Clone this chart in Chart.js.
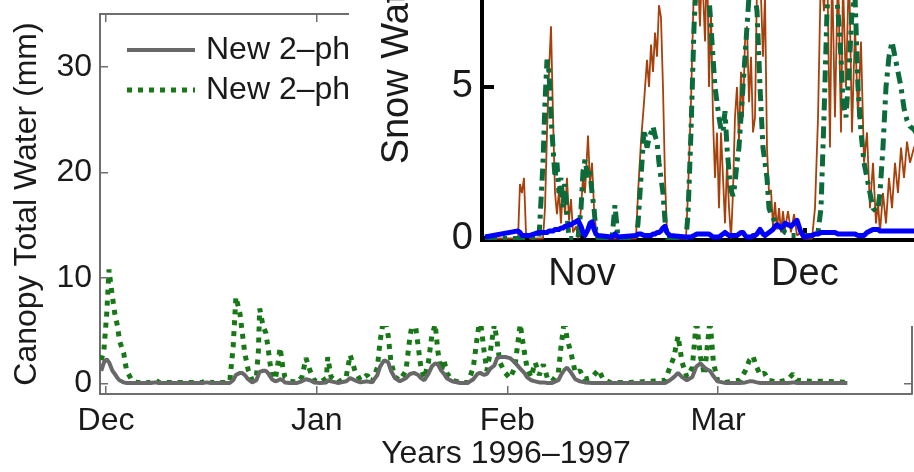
<!DOCTYPE html>
<html>
<head>
<meta charset="utf-8">
<script src="https://cdn.jsdelivr.net/npm/chart.js@4.4.1/dist/chart.umd.min.js"></script>
<style>
    html, body { margin: 0; padding: 0; background: #fff; }
    body { width: 914px; height: 472px; position: relative; overflow: hidden; }
    #mainBox { position: absolute; left: 0; top: 0; width: 914px; height: 472px; }
    #insetBox { position: absolute; left: 349px; top: -260px; width: 585px; height: 586px; background: #fff; }
</style>
</head>
<body>
<div id="mainBox"><canvas id="mainCanvas"></canvas></div>
<div id="insetBox"><canvas id="insetCanvas"></canvas></div>
<script>
// main panel: canopy total water, days from 1 Dec 1996
const canopyDays = [
    -0.7, -0.3, 0.1, 0.45, 0.7, 0.95, 1.3, 1.7, 2.0, 2.6,
    3.0, 3.3, 3.8, 4.5, 6.5, 7.2, 7.8, 11, 14.2, 14.8,
    15.4, 17.6, 18.2, 18.7, 19.1, 19.7, 20.0, 20.4, 20.9, 21.5,
    22.1, 22.4, 22.6, 23.1, 23.5, 23.8, 24.1, 24.4, 24.9, 25.3,
    25.6, 26.0, 26.3, 27.1, 28.1, 28.8, 29.4, 30.0, 30.6, 31.5,
    32.4, 32.6, 33.1, 34.1, 35.3, 35.9, 36.6, 37.4, 38.4, 39.1,
    39.9, 40.3, 40.9, 41.5, 41.9, 42.5, 43.2, 44.1, 44.7, 45.3,
    45.9, 46.3, 46.8, 47.4, 47.9, 48.4, 48.8, 49.3, 49.7, 50.1,
    50.9, 52.1, 53.2, 54.0, 54.6, 55.0, 55.6, 56.0, 56.5, 57.1,
    57.5, 57.9, 58.7, 59.4, 60.1, 60.9, 61.5, 61.9, 62.5, 63.1,
    63.7, 64.3, 64.9, 65.6, 66.5, 66.9, 67.4, 67.8, 68.4, 69.0,
    69.7, 70.4, 71.5, 72.4, 73.1, 74.1, 77.1, 80.0, 82.2, 82.9,
    83.5, 84.1, 84.7, 85.4, 86.2, 86.8, 87.4, 88.0, 88.4, 88.8,
    89.3, 89.9, 91.0, 93.2, 94.0, 94.6, 95.1, 95.7, 96.2, 96.8,
    97.4, 98.8, 100.3, 101.0, 101.6, 103.5, 105.7, 109.0
];
const canopyGray = [
    1.2, 2.0, 2.3, 2.0, 1.6, 1.2, 0.9, 0.5, 0.3, 0.1,
    0.05, 0.05, 0.05, 0.05, 0.05, 0.1, 0.05, 0.05, 0.05, 0.1,
    0.05, 0.05, 0.05, 0.3, 0.8, 1.0, 1.0, 0.8, 0.4, 0.1,
    0.3, 0.8, 1.1, 1.2, 1.2, 1.0, 0.7, 0.4, 0.2, 0.3,
    0.4, 0.3, 0.1, 0.05, 0.05, 0.2, 0.4, 0.3, 0.1, 0.05,
    0.1, 0.3, 0.2, 0.05, 0.2, 0.5, 0.3, 0.1, 0.2, 0.1,
    0.8, 1.6, 2.2, 2.0, 1.2, 0.5, 0.2, 0.5, 0.9, 1.0,
    0.8, 0.5, 0.3, 0.9, 1.6, 1.9, 1.8, 1.2, 0.9, 0.5,
    0.2, 0.05, 0.05, 0.4, 0.9, 1.0, 0.8, 0.9, 1.4, 1.7,
    2.4, 2.5, 2.5, 2.4, 2.0, 1.4, 1.0, 0.6, 0.3, 0.2,
    0.1, 0.1, 0.05, 0.05, 0.3, 0.8, 1.3, 1.5, 1.0, 0.4,
    0.2, 0.1, 0.05, 0.05, 0.05, 0.05, 0.05, 0.05, 0.05, 0.3,
    0.6, 1.0, 0.6, 0.3, 0.6, 1.6, 1.9, 1.5, 1.3, 1.2,
    0.7, 0.2, 0.05, 0.05, 0.1, 0.2, 0.2, 0.1, 0.05, 0.05,
    0.05, 0.05, 0.05, 0.1, 0.05, 0.05, 0.05, 0.05
];
const canopyGreen = [
    2.2, 3.2, 6.5, 10.8, 9.4, 8.2, 6.6, 5.4, 4.0, 2.9,
    1.3, 0.9, 0.3, 0.1, 0.1, 0.35, 0.1, 0.1, 0.1, 0.35,
    0.1, 0.1, 0.2, 3.5, 8.2, 6.6, 5.0, 2.9, 1.3, 0.3,
    0.5, 3.0, 7.1, 5.4, 4.8, 3.5, 2.0, 0.8, 0.4, 2.0,
    3.4, 1.5, 0.6, 0.2, 0.1, 0.6, 2.4, 1.2, 0.3, 0.1,
    0.5, 2.5, 0.6, 0.1, 0.6, 2.7, 1.2, 0.3, 0.8, 0.1,
    1.5, 4.0, 6.5, 4.5, 2.0, 0.6, 0.3, 1.2, 4.5, 6.5,
    3.5, 1.5, 0.5, 2.0, 4.5, 5.6, 3.0, 1.2, 2.2, 1.0,
    0.3, 0.1, 0.1, 1.5, 4.5, 6.2, 3.0, 1.2, 3.0, 5.6,
    4.0, 2.0, 1.0, 0.5, 1.5, 5.6, 3.0, 1.5, 0.6, 2.0,
    0.8, 1.8, 0.5, 0.2, 1.0, 3.5, 6.0, 4.2, 2.8, 1.0,
    1.2, 0.4, 0.6, 1.3, 0.4, 0.1, 0.1, 0.2, 0.3, 1.5,
    2.5, 4.5, 2.0, 0.6, 1.5, 6.0, 2.5, 0.8, 3.5, 6.0,
    2.0, 0.3, 0.1, 0.3, 1.2, 2.2, 2.6, 1.5, 0.8, 1.0,
    0.3, 0.1, 0.4, 0.9, 0.3, 0.2, 0.2, 0.1
];
const seriesLabels = ["New 2–phase", "New 2–phase"];
const monthTicks = [0, 31, 59, 90];
const monthLabels = ["Dec", "Jan", "Feb", "Mar"];
const canopyTicks = [0, 10, 20, 30];

// inset: snow water, days from 1 Nov 1996
const snowDays = [
    -13.06, -8.61, -8.35, -8.08, -7.81, -7.54, -7.00, -5.79, -5.25, -4.98,
    -4.71, -4.44, -4.17, -3.90, -3.63, -3.37, -3.10, -2.83, -2.56, -2.29,
    -2.02, -1.75, -1.48, -1.21, -0.81, -0.54, -0.13, 0.13, 0.40, 0.81,
    1.08, 1.35, 1.62, 1.88, 2.15, 4.04, 4.44, 4.85, 7.27, 7.54,
    7.94, 8.35, 8.75, 9.02, 9.29, 9.56, 9.83, 10.10, 10.36, 10.63,
    10.90, 11.17, 11.44, 11.84, 14.00, 14.27, 14.67, 15.08, 15.48, 15.88,
    16.15, 16.56, 16.83, 17.09, 17.36, 17.63, 17.90, 18.17, 18.44, 18.71,
    18.98, 19.25, 19.52, 19.79, 20.06, 20.32, 20.59, 20.86, 21.13, 21.40,
    21.67, 21.94, 22.21, 22.48, 22.75, 23.02, 23.29, 23.56, 23.96, 24.36,
    24.63, 24.90, 25.17, 25.44, 25.71, 25.98, 26.25, 26.52, 26.79, 27.05,
    27.32, 27.73, 28.13, 28.54, 28.94, 29.48, 29.88, 30.96, 31.36, 31.77,
    32.17, 32.57, 32.98, 33.38, 33.65, 34.05, 34.46, 34.86, 35.13, 35.53,
    35.94, 36.34, 36.75, 37.15, 37.55, 37.96, 38.36, 38.76, 39.17, 39.57,
    39.84, 40.11, 40.51, 40.92, 41.32, 41.73, 42.13, 42.53, 42.94, 43.34,
    43.75, 44.15, 44.69, 46.17
];
const snowBrown = [
    0, 0, 1.8, 1.5, 2.0, 0.2, 0, 0, 0, 1.0,
    3.5, 5.5, 7.0, 4.0, 1.5, 0.8, 1.6, 0.5, 1.8, 0.8,
    2.0, 0.6, 1.3, 0.2, 0.4, 0, 1.0, 2.0, 1.5, 3.4,
    1.8, 2.5, 1.0, 0.3, 0, 0, 0, 0, 0, 1.5,
    3.2, 4.5, 5.9, 5.0, 6.4, 5.5, 6.8, 6.0, 7.7, 7.3,
    5.0, 2.0, 0.2, 0, 0, 1.5, 4.5, 8.5, 9.5, 7.0,
    9.0, 6.5, 9.5, 5.0, 7.5, 4.0, 2.0, 3.5, 1.0, 3.5,
    2.0, 0.5, 2.5, 1.0, 0, 1.5, 4.0, 5.0, 3.2, 5.5,
    4.0, 6.5, 7.0, 4.5, 6.0, 3.5, 4.0, 8.5, 9.0, 6.0,
    8.0, 3.0, 1.5, 1.6, 0.4, 1.2, 0.3, 1.0, 0.2, 0.9,
    0.3, 0.9, 0.2, 0.8, 0.1, 0.2, 0, 0, 1.0, 4.0,
    9.0, 7.5, 9.5, 3.0, 9.0, 4.0, 9.0, 3.5, 8.5, 5.0,
    9.0, 3.5, 7.0, 4.0, 6.5, 2.5, 3.5, 1.0, 2.5, 0.5,
    1.2, 0.2, 1.5, 0.5, 2.0, 1.0, 2.5, 1.5, 3.0, 2.0,
    3.2, 2.5, 3.0, 3.5
];
const snowGreen = [
    0, 0, 0, 0, 0, 0, 0, 0, 2.5, 4.5,
    5.9, 5.5, 4.0, 3.0, 2.0, 2.5, 1.5, 2.0, 1.0, 1.8,
    0.8, 0, 0, 0, 0, 0, 1.0, 2.2, 2.6, 2.0,
    2.2, 1.5, 1.0, 0.2, 0, 0, 1.1, 0, 0, 0.5,
    2.0, 3.6, 3.0, 3.3, 3.5, 3.7, 3.4, 3.2, 2.5, 2.0,
    1.5, 0.6, 0, 0, 0, 0.8, 3.5, 7.0, 9.0, 8.8,
    8.5, 8.5, 8.3, 8.0, 7.0, 6.0, 5.0, 4.5, 4.0, 3.6,
    3.5, 4.2, 3.0, 2.2, 1.6, 1.4, 1.8, 2.5, 3.0, 4.0,
    5.0, 6.0, 7.0, 8.0, 8.5, 8.2, 8.0, 7.5, 5.0, 3.0,
    2.5, 2.0, 1.0, 0.8, 0.7, 0.5, 0.5, 0.4, 0.4, 0.3,
    0.2, 0.15, 0.1, 0.1, 0.1, 0.1, 0.1, 0.1, 0.1, 0.2,
    1.0, 4.0, 7.5, 9.0, 9.0, 8.5, 7.5, 6.0, 4.5, 4.0,
    5.5, 7.5, 8.0, 5.0, 3.5, 2.5, 2.0, 1.5, 1.0, 0.9,
    1.0, 1.5, 3.0, 5.0, 6.0, 6.5, 6.0, 5.5, 5.0, 4.3,
    3.9, 3.7, 3.6, 3.0
];
const snowBlue = [
    0.05, 0.25, 0.2, 0.1, 0.1, 0.1, 0.1, 0.2, 0.2, 0.2,
    0.2, 0.25, 0.25, 0.25, 0.3, 0.3, 0.3, 0.35, 0.35, 0.4,
    0.4, 0.45, 0.45, 0.5, 0.55, 0.6, 0.4, 0.2, 0.1, 0.3,
    0.5, 0.55, 0.3, 0.15, 0.1, 0.05, 0.15, 0.05, 0.1, 0.15,
    0.15, 0.1, 0.1, 0.1, 0.1, 0.15, 0.15, 0.2, 0.2, 0.25,
    0.35, 0.4, 0.2, 0.1, 0.05, 0.05, 0.05, 0.1, 0.15, 0.15,
    0.15, 0.15, 0.15, 0.15, 0.1, 0.05, 0.05, 0.05, 0.05, 0.1,
    0.15, 0.2, 0.15, 0.1, 0.1, 0.1, 0.1, 0.1, 0.15, 0.2,
    0.2, 0.1, 0.05, 0.05, 0.05, 0.1, 0.1, 0.15, 0.3, 0.15,
    0.1, 0.15, 0.2, 0.25, 0.3, 0.4, 0.45, 0.4, 0.35, 0.4,
    0.5, 0.45, 0.4, 0.5, 0.6, 0.2, 0.05, 0.1, 0.15, 0.15,
    0.2, 0.2, 0.2, 0.2, 0.2, 0.2, 0.15, 0.15, 0.15, 0.15,
    0.15, 0.15, 0.15, 0.1, 0.1, 0.1, 0.2, 0.25, 0.3, 0.3,
    0.3, 0.25, 0.25, 0.25, 0.25, 0.25, 0.25, 0.25, 0.25, 0.25,
    0.25, 0.25, 0.25, 0.25
];
const snowTicks = [0, 5, 10, 15];
const snowMonthTicks = [0, 30];
const snowMonthLabels = ["Nov", "Dec"];

const fontFamily = '"Liberation Sans", Arial, Helvetica, sans-serif';
const textColor = "#1a1a1a";
const axisGray = "#6e6e6e";

const toPoints = (xs, ys) => xs.map((x, i) => ({ x: x, y: ys[i] }));
const fixTicks = (values) => (scale) => { scale.ticks = values.map(v => ({ value: v })); };
// fixed axis size, and no extra room kept for the end labels
const fixSize = (key, size) => (scale) => {
    scale[key] = size;
    scale.paddingTop = 0;
    scale.paddingBottom = 0;
};

// legend drawn inside the plot, top left, like the matlab one
const lineLegend = {
    id: 'lineLegend',
    afterDatasetsDraw(chart) {
        const { ctx, chartArea } = chart;
        ctx.save();
        chart.data.datasets.forEach((ds, i) => {
            const y = chartArea.top + 36 + i * 40;
            const x0 = chartArea.left + 27;
            ctx.strokeStyle = ds.borderColor;
            ctx.lineWidth = ds.borderWidth;
            ctx.setLineDash(ds.borderDash || []);
            ctx.beginPath();
            ctx.moveTo(x0, y);
            ctx.lineTo(x0 + 68, y);
            ctx.stroke();
            ctx.setLineDash([]);
            ctx.fillStyle = textColor;
            ctx.font = '32px ' + fontFamily;
            ctx.textBaseline = 'middle';
            ctx.fillText(ds.label, x0 + 79, y);
        });
        ctx.restore();
    }
};

const mainGrid = { drawOnChartArea: false, tickLength: -8, color: axisGray, lineWidth: 1.5 };
const mainBorder = { color: axisGray, width: 2 };
const mainFont = { family: fontFamily, size: 32 };

const mainChart = new Chart(document.getElementById('mainCanvas'), {
    type: "line",
    data: {
        datasets: [{
            label: seriesLabels[0],
            data: toPoints(canopyDays, canopyGray),
            borderColor: "#686868",
            borderWidth: 4,
            borderJoinStyle: 'bevel',
            pointRadius: 0,
            tension: 0,
        }, {
            label: seriesLabels[1],
            data: toPoints(canopyDays, canopyGreen),
            borderColor: "#187818",
            borderWidth: 5,
            borderDash: [5, 6],
            borderJoinStyle: 'bevel',
            pointRadius: 0,
            tension: 0,
        }]
    },
    options: {
        animation: false,
        responsive: true,
        maintainAspectRatio: false,
        layout: { padding: { top: 14, right: 2, left: 0, bottom: 0 } },
        plugins: { legend: { display: false }, tooltip: { enabled: false } },
        scales: {
            x: {
                type: 'linear', position: 'bottom', min: -0.88, max: 118.5,
                afterBuildTicks: fixTicks(monthTicks),
                afterFit: (s) => { s.height = 78; },
                ticks: { callback: (v, i) => monthLabels[i], font: mainFont, color: textColor, padding: 16, maxRotation: 0, autoSkip: false },
                grid: mainGrid, border: mainBorder,
                title: { display: true, text: "Years 1996–1997", color: textColor, font: { family: fontFamily, size: 32, lineHeight: 1.1 }, padding: 0 }
            },
            x2: {
                type: 'linear', position: 'top', min: -0.88, max: 118.5,
                afterBuildTicks: fixTicks(monthTicks),
                afterFit: (s) => { s.height = 0; },
                ticks: { display: false },
                grid: mainGrid, border: mainBorder
            },
            y: {
                type: 'linear', position: 'left', min: -1, max: 35,
                afterBuildTicks: fixTicks(canopyTicks),
                afterFit: fixSize('width', 100),
                ticks: { font: mainFont, color: textColor, padding: 16 },
                grid: mainGrid, border: mainBorder,
                title: { display: true, text: "Canopy Total Water (mm)", color: textColor, font: { family: fontFamily, size: 32, lineHeight: 1.1 }, padding: { top: 10 } }
            },
            y2: {
                type: 'linear', position: 'right', min: -1, max: 35,
                afterBuildTicks: fixTicks(canopyTicks),
                afterFit: fixSize('width', 0),
                ticks: { display: false },
                grid: mainGrid, border: mainBorder
            }
        }
    },
    plugins: [lineLegend]
});

const insetGrid = { drawOnChartArea: false, tickLength: -12, color: "#000", lineWidth: 4 };
const insetBorder = { color: "#000", width: 4 };
const insetFont = { family: fontFamily, size: 38 };

const insetChart = new Chart(document.getElementById('insetCanvas'), {
    type: "line",
    data: {
        datasets: [{
            label: "Snow water (blue)",
            data: toPoints(snowDays, snowBlue),
            borderColor: "#0000ff",
            borderWidth: 5,
            borderJoinStyle: 'round',
            pointRadius: 0,
        }, {
            label: "Snow water (green)",
            data: toPoints(snowDays, snowGreen),
            borderColor: "#0b6b3b",
            borderWidth: 5,
            borderDash: [12, 6, 4, 6],
            borderJoinStyle: 'bevel',
            pointRadius: 0,
        }, {
            label: "Snow water (brown)",
            data: toPoints(snowDays, snowBrown),
            borderColor: "#a8400c",
            borderWidth: 1.8,
            borderJoinStyle: 'bevel',
            pointRadius: 0,
        }]
    },
    options: {
        animation: false,
        responsive: true,
        maintainAspectRatio: false,
        layout: { padding: { top: 44, right: 0, left: 0, bottom: 0 } },
        plugins: { legend: { display: false }, tooltip: { enabled: false } },
        scales: {
            x: {
                type: 'linear', min: -13.46, max: 47.38,
                afterBuildTicks: fixTicks(snowMonthTicks),
                afterFit: (s) => { s.height = 86; },
                ticks: { callback: (v, i) => snowMonthLabels[i], font: insetFont, color: textColor, padding: 24, maxRotation: 0, autoSkip: false },
                grid: insetGrid, border: insetBorder
            },
            y: {
                type: 'linear', min: -0.05, max: 15,
                afterBuildTicks: fixTicks(snowTicks),
                afterFit: fixSize('width', 133),
                ticks: { font: insetFont, color: textColor, padding: 21 },
                grid: insetGrid, border: insetBorder,
                title: { display: true, text: "Snow Water (mm)", color: textColor, font: insetFont, padding: { top: 26 } }
            }
        }
    }
});
</script>
</body>
</html>
